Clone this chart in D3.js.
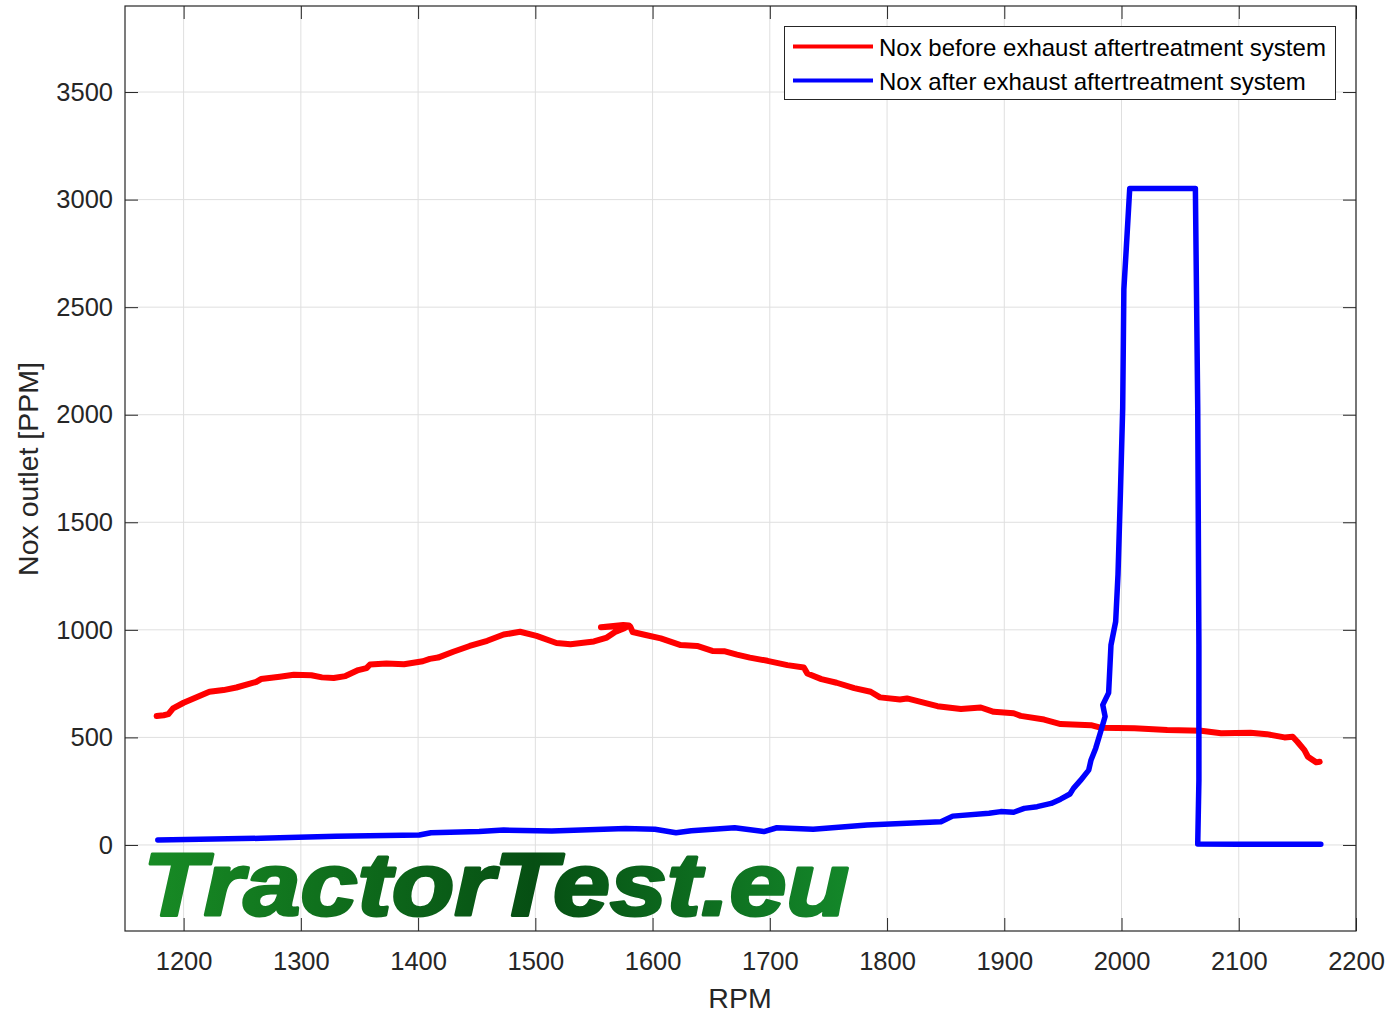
<!DOCTYPE html>
<html><head><meta charset="utf-8">
<script src="https://cdn.jsdelivr.net/npm/d3@7"></script>
<style>body{margin:0;background:#fff} svg{display:block}</style>
</head><body><svg id="c" width="1391" height="1016"></svg>
<script>
// ---- data ----
const rpmBefore = [1177,1183,1187,1191,1200,1212,1222,1234,1245,1262,1266,1282,1294,1309,1318,1328,1338,1349,1356,1359,1373,1388,1404,1410,1417,1430,1444,1459,1473,1487,1501,1518,1530,1550,1561,1568,1576,1580,1575,1556,1566,1581,1583,1595,1607,1624,1638,1651,1661,1672,1683,1698,1715,1729,1732,1744,1757,1772,1786,1794,1811,1817,1843,1863,1880,1891,1908,1914,1934,1948,1974,1982,2011,2039,2068,2085,2110,2124,2139,2146,2150,2156,2159,2166,2169];
const noxBefore = [599,603,608,635,661,689,712,720,732,758,771,782,791,789,779,776,785,813,822,839,843,840,854,865,871,898,925,949,978,991,972,939,933,946,964,990,1008,1020,1022,1012,1016,1015,990,975,960,929,925,902,901,885,871,856,836,825,797,771,754,729,712,686,676,681,645,632,639,619,612,600,583,562,557,545,542,534,531,519,522,515,500,503,480,441,410,384,387];
const rpmAfter = [1178,1266,1330,1401,1411,1452,1473,1514,1577,1602,1620,1633,1670,1695,1706,1737,1783,1846,1856,1887,1897,1908,1917,1928,1940,1948,1956,1959,1965,1972,1974,1978,1982,1986,1984,1989,1991,1995,1997,1999,2001,2002,2004,2007,2063,2065,2066,2066,2065,2100,2170];
const noxAfter = [23,31,40,46,57,62,69,65,77,73,57,66,80,62,80,73,93,108,134,147,155,152,170,178,193,213,237,263,300,348,395,450,523,597,651,707,929,1038,1258,1626,2031,2583,2767,3052,3052,2031,929,300,5,3,3];
const xTicks = [1200,1300,1400,1500,1600,1700,1800,1900,2000,2100,2200];
const yTicks = [0,500,1000,1500,2000,2500,3000,3500];
const seriesNames = ["Nox before exhaust aftertreatment system","Nox after exhaust aftertreatment system"];
const seriesColors = ["#ff0000","#0000ff"];
const xLabel = "RPM", yLabel = "Nox outlet [PPM]", watermark = "TractorTest.eu";

(function () {
// ---- layout ----
const L = 125, T = 6, W = 1231, H = 925;
const svg = d3.select("#c");
const font = "'Liberation Sans', Arial, sans-serif";
const ink = "#262626";
const x = d3.scaleLinear().domain([1150, 2200]).range([L, L + W]);
const y = d3.scaleLinear().domain([-400, 3900]).range([T + H, T]);

// grid
const g = svg.append("g");
g.selectAll(".vg").data(xTicks).join("line")
  .attr("x1", d => x(d)).attr("x2", d => x(d)).attr("y1", T).attr("y2", T + H)
  .attr("stroke", "#dfdfdf").attr("stroke-width", 1);
g.selectAll(".hg").data(yTicks).join("line")
  .attr("y1", d => y(d)).attr("y2", d => y(d)).attr("x1", L).attr("x2", L + W)
  .attr("stroke", "#dfdfdf").attr("stroke-width", 1);

// watermark
const defs = svg.append("defs");
const grad = defs.append("linearGradient").attr("id", "wm").attr("gradientUnits", "userSpaceOnUse")
  .attr("x1", 143).attr("x2", 853).attr("y1", 0).attr("y2", 0);
grad.append("stop").attr("offset", "0%").attr("stop-color", "#188c25");
grad.append("stop").attr("offset", "55%").attr("stop-color", "#064f13");
grad.append("stop").attr("offset", "100%").attr("stop-color", "#14882a");
svg.append("text").text(watermark)
  .attr("x", 143).attr("y", 915)
  .attr("font-family", font).attr("font-weight", "bold").attr("font-style", "italic")
  .attr("font-size", 89).attr("textLength", 706).attr("lengthAdjust", "spacingAndGlyphs")
  .attr("fill", "url(#wm)").attr("stroke", "url(#wm)").attr("stroke-width", 3)
  .attr("stroke-linejoin", "round");

// clip
defs.append("clipPath").attr("id", "clip").append("rect")
  .attr("x", L).attr("y", T).attr("width", W).attr("height", H);

// lines
const line = d3.line().x(d => x(d[0])).y(d => y(d[1]));
const series = [d3.zip(rpmBefore, noxBefore), d3.zip(rpmAfter, noxAfter)];
svg.append("g").attr("clip-path", "url(#clip)").selectAll("path").data(series).join("path")
  .attr("d", line).attr("fill", "none")
  .attr("stroke", (d, i) => seriesColors[i]).attr("stroke-width", (d, i) => i === 0 ? 6 : 5.5)
  .attr("stroke-linejoin", "round").attr("stroke-linecap", "round");

// axes (box with inward ticks)
const tl = 13;
const fmt = d3.format("d");
const ax = svg.append("g").attr("font-family", font).attr("fill", ink);
const axB = d3.axisBottom(x).tickValues(xTicks).tickFormat(fmt).tickSizeInner(-tl).tickSizeOuter(0).tickPadding(21);
const axT = d3.axisTop(x).tickValues(xTicks).tickSizeInner(-tl).tickSizeOuter(0).tickFormat("");
const axL = d3.axisLeft(y).tickValues(yTicks).tickFormat(fmt).tickSizeInner(-tl).tickSizeOuter(0).tickPadding(12);
const axR = d3.axisRight(y).tickValues(yTicks).tickSizeInner(-tl).tickSizeOuter(0).tickFormat("");
function style(sel) {
  sel.select(".domain").remove();
  sel.selectAll(".tick line").attr("stroke", ink).attr("stroke-width", 1);
  sel.selectAll(".tick text").attr("fill", ink).attr("font-size", 25.5).attr("font-family", font);
}
ax.append("g").attr("transform", `translate(0,${T + H})`).call(axB).call(style);
ax.append("g").attr("transform", `translate(0,${T})`).call(axT).call(style);
ax.append("g").attr("transform", `translate(${L},0)`).call(axL).call(style);
ax.append("g").attr("transform", `translate(${L + W},0)`).call(axR).call(style);
svg.append("rect").attr("x", L).attr("y", T).attr("width", W).attr("height", H)
  .attr("fill", "none").attr("stroke", ink).attr("stroke-width", 1.2);

// axis labels
svg.append("text").text(xLabel).attr("x", 740).attr("y", 1008).attr("text-anchor", "middle")
  .attr("font-family", font).attr("font-size", 28.5).attr("fill", ink);
svg.append("text").text(yLabel).attr("transform", "translate(38,469) rotate(-90)").attr("text-anchor", "middle")
  .attr("font-family", font).attr("font-size", 28.5).attr("fill", ink);

// legend
const lg = svg.append("g");
lg.append("rect").attr("x", 784.5).attr("y", 26.5).attr("width", 551).attr("height", 73)
  .attr("fill", "#fff").attr("stroke", ink).attr("stroke-width", 1);
const items = lg.selectAll(".it").data(seriesNames).join("g")
  .attr("transform", (d, i) => `translate(0,${46.5 + i * 34})`);
items.append("line").attr("x1", 793).attr("x2", 873).attr("y1", 0).attr("y2", 0)
  .attr("stroke", (d, i) => seriesColors[i]).attr("stroke-width", 4);
items.append("text").text(d => d).attr("x", 879).attr("y", 9)
  .attr("font-family", font).attr("font-size", 24).attr("fill", "#000");
})();
</script>
</body></html>
